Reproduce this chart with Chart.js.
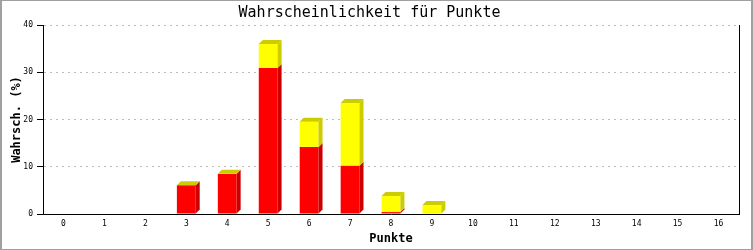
<!DOCTYPE html>
<html>
<head>
<meta charset="utf-8">
<script src="https://cdn.jsdelivr.net/npm/chart.js@4"></script>
<style>
  body { margin: 0; background: #fff; }
  #wrap { width: 753px; height: 250px; }
</style>
</head>
<body>
<div id="wrap"><canvas id="punkteChart" width="753" height="250"></canvas></div>
<script>
// Chart data
const kategorien = ['0', '1', '2', '3', '4', '5', '6', '7', '8', '9', '10', '11', '12', '13', '14', '15', '16'];
const rotWerte = [0, 0, 0, 6.1, 8.5, 30.9, 14.2, 10.2, 0.4, 0, 0, 0, 0, 0, 0, 0, 0];
const gelbWerte = [0, 0, 0, 0, 0, 5.1, 5.3, 13.3, 3.4, 1.9, 0, 0, 0, 0, 0, 0, 0];
const yTicks = [0, 10, 20, 30, 40];

const monoFont = '"DejaVu Sans Mono", monospace';
const depth = 4;

// Draws side and top faces to fake the 3D look
const bars3d = {
    id: 'bars3d',
    afterDatasetsDraw(chart) {
        const ctx = chart.ctx;
        const shades = ['#cc0000', '#cccc00'];
        const metas = chart.data.datasets.map((d, i) => chart.getDatasetMeta(i));
        ctx.save();
        kategorien.forEach((k, idx) => {
            const total = rotWerte[idx] + gelbWerte[idx];
            if (total <= 0) return;
            metas.forEach((meta, di) => {
                const bar = meta.data[idx];
                const p = bar.getProps(['x', 'y', 'base', 'width'], true);
                const left = p.x - p.width / 2;
                const right = p.x + p.width / 2;
                ctx.fillStyle = shades[di];
                // side face
                if (p.base - p.y > 0) {
                    ctx.beginPath();
                    ctx.moveTo(right, p.y);
                    ctx.lineTo(right + depth, p.y - depth);
                    ctx.lineTo(right + depth, p.base - depth);
                    ctx.lineTo(right, p.base);
                    ctx.closePath();
                    ctx.fill();
                }
                // top face on the last dataset only
                if (di === metas.length - 1) {
                    ctx.beginPath();
                    ctx.moveTo(left, p.y);
                    ctx.lineTo(left + depth, p.y - depth);
                    ctx.lineTo(right + depth, p.y - depth);
                    ctx.lineTo(right, p.y);
                    ctx.closePath();
                    ctx.fill();
                }
            });
        });
        ctx.restore();
    }
};

// Right frame line and outer grey border
const frame = {
    id: 'frame',
    afterDraw(chart) {
        const ctx = chart.ctx;
        const area = chart.chartArea;
        ctx.save();
        ctx.strokeStyle = '#000';
        ctx.lineWidth = 1;
        ctx.beginPath();
        ctx.moveTo(Math.round(area.right) + 0.5, area.top);
        ctx.lineTo(Math.round(area.right) + 0.5, area.bottom);
        ctx.stroke();
        ctx.strokeStyle = '#a0a0a0';
        ctx.strokeRect(0.5, 0.5, chart.width - 1, chart.height - 1);
        ctx.beginPath();
        ctx.moveTo(1.5, 0);
        ctx.lineTo(1.5, chart.height);
        ctx.moveTo(chart.width - 1.5, 0);
        ctx.lineTo(chart.width - 1.5, chart.height);
        ctx.stroke();
        ctx.restore();
    }
};

const ctx = document.getElementById('punkteChart').getContext('2d');
const punkteChart = new Chart(ctx, {
    type: 'bar',
    data: {
        labels: kategorien,
        datasets: [{
            data: rotWerte,
            backgroundColor: '#ff0000',
            borderWidth: 0
        }, {
            data: gelbWerte,
            backgroundColor: '#ffff00',
            borderWidth: 0
        }]
    },
    options: {
        responsive: false,
        animation: false,
        events: [],
        layout: { padding: { left: 0, right: 14, top: 0, bottom: 0 } },
        datasets: {
            bar: { barPercentage: 0.46, categoryPercentage: 1 }
        },
        plugins: {
            legend: { display: false },
            tooltip: { enabled: false },
            title: {
                display: true,
                text: 'Wahrscheinlichkeit für Punkte',
                color: '#000',
                font: { family: monoFont, size: 15, weight: 'normal', lineHeight: 1.2 },
                padding: { top: 4, bottom: 3 }
            }
        },
        scales: {
            x: {
                stacked: true,
                grid: { display: false, drawTicks: false },
                border: { display: true, color: '#000', width: 1 },
                ticks: {
                    color: '#000',
                    padding: 5,
                    font: { family: monoFont, size: 8 },
                    maxRotation: 0,
                    autoSkip: false
                },
                title: {
                    display: true,
                    text: 'Punkte',
                    color: '#000',
                    font: { family: monoFont, size: 12, weight: 'bold', lineHeight: 1.2 },
                    padding: { top: 0, bottom: 4 }
                },
                afterFit(scale) { scale.height = 36; }
            },
            y: {
                stacked: true,
                min: 0,
                max: 40,
                afterBuildTicks(scale) {
                    scale.ticks = yTicks.map(v => ({ value: v }));
                },
                grid: {
                    color: '#bbbbbb',
                    tickColor: '#000',
                    tickBorderDash: [],
                    tickLength: 6,
                    drawTicks: true
                },
                border: { display: true, color: '#000', width: 1, dash: [2, 4] },
                ticks: {
                    color: '#000',
                    padding: 4,
                    font: { family: monoFont, size: 8 }
                },
                title: {
                    display: true,
                    text: 'Wahrsch. (%)',
                    color: '#000',
                    font: { family: monoFont, size: 12, weight: 'bold', lineHeight: 1.2 },
                    padding: { top: 10, bottom: 0 }
                },
                afterFit(scale) { scale.width = 43; }
            }
        }
    },
    plugins: [bars3d, frame]
});
</script>
</body>
</html>
